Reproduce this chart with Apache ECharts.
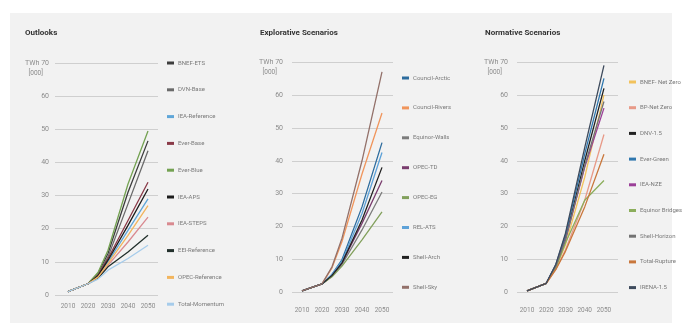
<!DOCTYPE html>
<html>
<head>
<meta charset="utf-8">
<script src="https://cdn.jsdelivr.net/npm/echarts@6/dist/echarts.min.js"></script>
<style>
  html, body { margin: 0; padding: 0; background: #ffffff; }
  #chart { width: 682px; height: 332px; }
</style>
</head>
<body>
<div id="chart"></div>
<script>
// Years sampled along each projection
const years = [2010, 2020, 2025, 2030, 2040, 2050];
const xTicks = [2010, 2020, 2030, 2040, 2050];

// Outlooks (TWh, thousands)
const bnefEts        = [1.0, 3.4, 6.5, 12.5, 31.0, 46.5];
const dvnBase        = [1.0, 3.4, 6.2, 11.5, 27.5, 43.5];
const ieaReference   = [1.0, 3.4, 5.6, 10.0, 19.5, 29.0];
const everBase       = [1.0, 3.4, 6.0, 11.0, 22.5, 34.0];
const everBlue       = [1.0, 3.4, 6.8, 13.5, 33.5, 49.5];
const ieaAps         = [1.0, 3.4, 5.8, 10.5, 21.0, 32.0];
const ieaSteps       = [1.0, 3.4, 5.2, 9.0, 16.0, 23.5];
const eeiReference   = [1.0, 3.4, 5.0, 8.5, 13.0, 18.0];
const opecReference  = [1.0, 3.4, 5.4, 9.5, 18.0, 27.0];
const totalMomentum  = [1.0, 3.4, 4.8, 7.5, 11.0, 15.0];

// Explorative scenarios
const councilArctic  = [0.5, 2.6, 5.5, 10.0, 26.0, 45.5];
const councilRivers  = [0.5, 2.6, 7.5, 15.5, 36.0, 54.5];
const equinorWalls   = [0.5, 2.6, 5.0, 8.5, 19.0, 30.5];
const opecTd         = [0.5, 2.6, 5.0, 9.0, 21.0, 34.0];
const opecEg         = [0.5, 2.6, 4.8, 8.0, 16.0, 24.5];
const relAts         = [0.5, 2.6, 5.5, 9.5, 24.0, 42.5];
const shellArch      = [0.5, 2.6, 5.2, 9.0, 22.0, 38.0];
const shellSky       = [0.5, 2.6, 7.8, 16.5, 40.0, 67.0];

// Normative scenarios
const bnefNetZero    = [0.5, 2.8, 7.5, 14.5, 35.0, 60.0];
const bpNetZero      = [0.5, 2.8, 7.0, 13.0, 28.0, 48.0];
const dnv15          = [0.5, 2.8, 8.2, 16.5, 40.0, 62.0];
const everGreen      = [0.5, 2.8, 8.5, 17.5, 42.0, 65.0];
const ieaNze         = [0.5, 2.8, 8.0, 16.0, 38.0, 56.0];
const equinorBridges = [0.5, 2.8, 7.5, 15.0, 28.0, 34.0];
const shellHorizon   = [0.5, 2.8, 8.0, 16.0, 38.5, 58.0];
const totalRupture   = [0.5, 2.8, 7.0, 12.5, 26.0, 42.0];
const irena15        = [0.5, 2.8, 8.6, 18.0, 44.0, 69.0];

const panels = [
  {
    title: 'Outlooks',
    series: [
      ['BNEF-ETS', bnefEts, '#3d3d3d'],
      ['DVN-Base', dvnBase, '#6a6a6a'],
      ['IEA-Reference', ieaReference, '#5fa6d8'],
      ['Ever-Base', everBase, '#8a3a48'],
      ['Ever-Blue', everBlue, '#74a252'],
      ['IEA-APS', ieaAps, '#1c1c1c'],
      ['IEA-STEPS', ieaSteps, '#d98a90'],
      ['EEI-Reference', eeiReference, '#22302c'],
      ['OPEC-Reference', opecReference, '#f2b55e'],
      ['Total-Momentum', totalMomentum, '#a6cceb']
    ]
  },
  {
    title: 'Explorative Scenarios',
    series: [
      ['Council-Arctic', councilArctic, '#2d6c9e'],
      ['Council-Rivers', councilRivers, '#f0955c'],
      ['Equinor-Walls', equinorWalls, '#7c7c7c'],
      ['OPEC-TD', opecTd, '#7a3d6e'],
      ['OPEC-EG', opecEg, '#82a05c'],
      ['REL-ATS', relAts, '#5ea2d8'],
      ['Shell-Arch', shellArch, '#222222'],
      ['Shell-Sky', shellSky, '#93716a']
    ]
  },
  {
    title: 'Normative Scenarios',
    series: [
      ['BNEF- Net Zero', bnefNetZero, '#f2c25c'],
      ['BP-Net Zero', bpNetZero, '#e89a88'],
      ['DNV-1.5', dnv15, '#222222'],
      ['Ever-Green', everGreen, '#2f77ae'],
      ['IEA-NZE', ieaNze, '#9b3f98'],
      ['Equinor Bridges', equinorBridges, '#8cae5c'],
      ['Shell-Horizon', shellHorizon, '#737373'],
      ['Total-Rupture', totalRupture, '#c9773c'],
      ['IRENA-1.5', irena15, '#3d4a5c']
    ]
  }
];

// Layout of each small multiple
const layout = [
  { left: 55,  top: 63, width: 103, height: 232, xMin: 2003.5, xMax: 2055,   labelMargin: 6, xMargin: 8,
    titleX: 25,  legendLeft: 167, legendTop: 58, legendGap: 16.8 },
  { left: 292, top: 62, width: 101, height: 230.5, xMin: 2005, xMax: 2055.5, labelMargin: 9, xMargin: 14,
    titleX: 260, legendLeft: 402, legendTop: 73, legendGap: 19.9 },
  { left: 517, top: 62, width: 101, height: 230.5, xMin: 2004.8, xMax: 2057.3, labelMargin: 9, xMargin: 14,
    titleX: 485, legendLeft: 629, legendTop: 77, legendGap: 15.7 }
];

const FONT = "Roboto, 'Liberation Sans', sans-serif";
const tickColor = '#8c8c8c';

const option = {
  animation: false,
  backgroundColor: '#ffffff',
  graphic: [
    { type: 'rect', shape: { x: 10, y: 13, width: 662, height: 310 }, style: { fill: '#f2f2f2' }, z: -10 }
  ],
  title: [],
  grid: [],
  xAxis: [],
  yAxis: [],
  legend: [],
  series: []
};

panels.forEach((p, i) => {
  const L = layout[i];
  option.title.push({
    text: p.title, left: L.titleX, top: 29, padding: 0,
    textStyle: { fontFamily: FONT, fontSize: 8, fontWeight: 'bold', color: '#333333' }
  });
  option.grid.push({ left: L.left, top: L.top, width: L.width, height: L.height });
  option.xAxis.push({
    type: 'value', gridIndex: i, min: L.xMin, max: L.xMax,
    axisLine: { show: false }, axisTick: { show: false }, splitLine: { show: false },
    axisLabel: {
      customValues: xTicks, hideOverlap: false, margin: L.xMargin,
      fontFamily: FONT, fontSize: 6.5, color: tickColor,
      formatter: v => String(v)
    }
  });
  option.yAxis.push({
    type: 'value', gridIndex: i, min: 0, max: 70, interval: 10,
    name: '[000]', nameLocation: 'end', nameGap: -7,
    nameTextStyle: { fontFamily: FONT, fontSize: 6.5, color: tickColor, align: 'right', verticalAlign: 'top',
      padding: [0, L.labelMargin + 6, 0, 0] },
    axisLine: { show: false }, axisTick: { show: false },
    splitLine: { lineStyle: { color: '#cfcfcf', width: 1 } },
    axisLabel: {
      margin: L.labelMargin, fontFamily: FONT, fontSize: 7, color: tickColor,
      formatter: v => (v === 70 ? 'TWh 70' : String(v))
    }
  });
  option.legend.push({
    orient: 'vertical', left: L.legendLeft, top: L.legendTop, padding: 0,
    itemWidth: 7, itemHeight: 3, itemGap: L.legendGap, icon: 'rect',
    textStyle: { fontFamily: FONT, fontSize: 6, color: '#7a7a7a', lineHeight: 10, padding: [0, 0, 0, -1] },
    data: p.series.map(s => s[0])
  });
  p.series.forEach(([name, vals, color]) => {
    option.series.push({
      name, type: 'line', xAxisIndex: i, yAxisIndex: i,
      data: years.map((y, k) => [y, vals[k]]),
      symbol: 'none', smooth: false,
      color, lineStyle: { color, width: 1.3 }
    });
  });
});

const chart = echarts.init(document.getElementById('chart'), null, { renderer: 'canvas' });
chart.setOption(option);
</script>
</body>
</html>
